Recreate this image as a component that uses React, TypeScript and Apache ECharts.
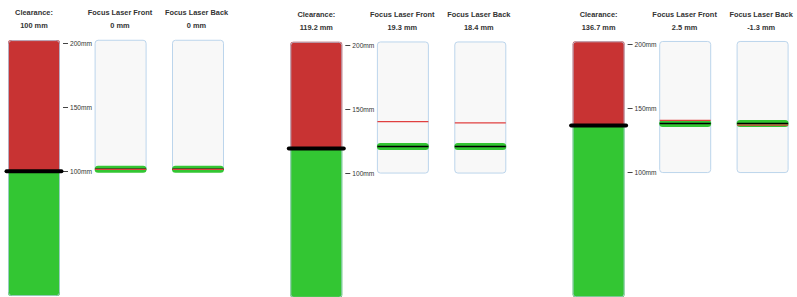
import React, { useEffect, useRef } from "react";
import * as echarts from "echarts";

// ---- data ----
const columnTitles = ["Clearance:", "Focus Laser Front", "Focus Laser Back"];
const clearanceValues = [100, 119.2, 136.7];
const focusFrontValues = [0, 19.3, 2.5];
const focusBackValues = [0, 18.4, -1.3];
const clearanceBarRange = [2.5, 202.5];
const focusBoxRange = [98, 201.2];

// ---- layout / style ----
const PANEL_X = [8, 290.3, 572.6];
const PANEL_Y200 = [43.3, 45, 44.5];
const PX_PER_MM = 1.28;
const COL_OFFSET = [0, 86.6, 164];
const COL_W = 52;
const BOX_SHIFT = 2;
const RED = "#c83333";
const GREEN = "#33c633";
const FONT = "'Liberation Sans', Arial, sans-serif";

export default function App() {
  const ref = useRef<HTMLDivElement>(null);
  useEffect(() => {
    if (!ref.current) return;
    const chart = echarts.init(ref.current, null, { renderer: "svg" });
    const grid: any[] = [];
    const xAxis: any[] = [];
    const yAxis: any[] = [];
    const series: any[] = [];
    const graphic: any[] = [];

    const clearanceRender = (params: any, api: any) => {
      const cs = params.coordSys;
      const x = cs.x;
      const w = cs.width;
      const yTop = api.coord([0, clearanceBarRange[1]])[1];
      const yBot = api.coord([0, clearanceBarRange[0]])[1];
      const yC = api.coord([0, api.value(1)])[1];
      return {
        type: "group",
        children: [
          { type: "rect", shape: { x, y: yC, width: w, height: yBot - yC, r: [0, 0, 3, 3] }, style: { fill: GREEN } },
          { type: "rect", shape: { x, y: yTop, width: w, height: yC - yTop, r: [3, 3, 0, 0] }, style: { fill: RED } },
          { type: "rect", shape: { x: x + 0.5, y: yTop + 0.5, width: w - 1, height: yBot - yTop - 1, r: 3 }, style: { fill: "none", stroke: "#b4cde4", lineWidth: 1, opacity: 0.8 } },
          { type: "line", shape: { x1: x - 1.5, y1: yC, x2: x + w + 1.5, y2: yC }, style: { stroke: "#000", lineWidth: 4, lineCap: "round" } },
        ],
      };
    };

    const boxRender = (params: any, api: any) => {
      const cs = params.coordSys;
      const x = cs.x;
      const w = cs.width;
      const yTop = api.coord([0, focusBoxRange[1]])[1];
      const yBot = api.coord([0, focusBoxRange[0]])[1];
      const c = api.value(1);
      const f = api.value(2);
      const yC = api.coord([0, c])[1];
      const yF = api.coord([0, c + f])[1];
      return {
        type: "group",
        children: [
          { type: "rect", shape: { x: x + 0.5, y: yTop + 0.5, width: w - 1, height: yBot - yTop - 1, r: 3 }, style: { fill: "#f8f8f8", stroke: "#bcd5ec", lineWidth: 1 } },
          { type: "rect", shape: { x, y: yC - 3.5, width: w, height: 7, r: 3.5 }, style: { fill: GREEN } },
          { type: "line", shape: { x1: x + 0.5, y1: yC, x2: x + w - 0.5, y2: yC }, style: { stroke: "#000", lineWidth: 1.5 } },
          { type: "line", shape: { x1: x + 0.5, y1: yF, x2: x + w - 0.5, y2: yF }, style: { stroke: "#e04040", lineWidth: 1.3 } },
        ],
      };
    };

    clearanceValues.forEach((clr, p) => {
      const focusVals = [null, focusFrontValues[p], focusBackValues[p]];
      for (let col = 0; col < 3; col++) {
        const gi = grid.length;
        const top = PANEL_Y200[p] - (col === 0 ? 0 : BOX_SHIFT);
        const left = PANEL_X[p] + COL_OFFSET[col];
        grid.push({ left, top, width: COL_W, height: 100 * PX_PER_MM, containLabel: false });
        xAxis.push({ type: "category", gridIndex: gi, data: ["v"], show: false });
        yAxis.push({
          type: "value",
          gridIndex: gi,
          min: 100,
          max: 200,
          interval: 50,
          show: col === 0,
          position: "right",
          offset: 3,
          axisLine: { show: false },
          axisTick: { show: true, length: 5, lineStyle: { color: "#444", width: 1 } },
          axisLabel: { show: true, margin: 7, formatter: "{value}mm", fontSize: 6.6, color: "#333", fontFamily: FONT },
          splitLine: { show: false },
        });
        if (col === 0) {
          series.push({ type: "custom", xAxisIndex: gi, yAxisIndex: gi, clip: false, renderItem: clearanceRender, data: [[0, clr]] });
        } else {
          series.push({ type: "custom", xAxisIndex: gi, yAxisIndex: gi, clip: false, renderItem: boxRender, data: [[0, clr, focusVals[col]]] });
        }
        const cx = left + COL_W / 2 - (col === 2 ? 1.5 : col === 1 ? 0.6 : 0);
        const valueText = col === 0 ? `${clr} mm` : `${focusVals[col]} mm`;
        graphic.push({
          type: "text",
          x: cx,
          y: PANEL_Y200[p] - 30.5,
          style: { text: columnTitles[col], fill: "#333", font: `bold 7.4px ${FONT}`, textAlign: "center", textVerticalAlign: "middle" },
        });
        graphic.push({
          type: "text",
          x: cx,
          y: PANEL_Y200[p] - 17.5,
          style: { text: valueText, fill: "#333", font: `bold 7.4px ${FONT}`, textAlign: "center", textVerticalAlign: "middle" },
        });
      }
    });

    chart.setOption({ animation: false, grid, xAxis, yAxis, series, graphic });
    return () => chart.dispose();
  }, []);
  return <div ref={ref} style={{ position: "fixed", left: 0, top: 0, width: 797, height: 297, background: "#fff" }} />;
}
